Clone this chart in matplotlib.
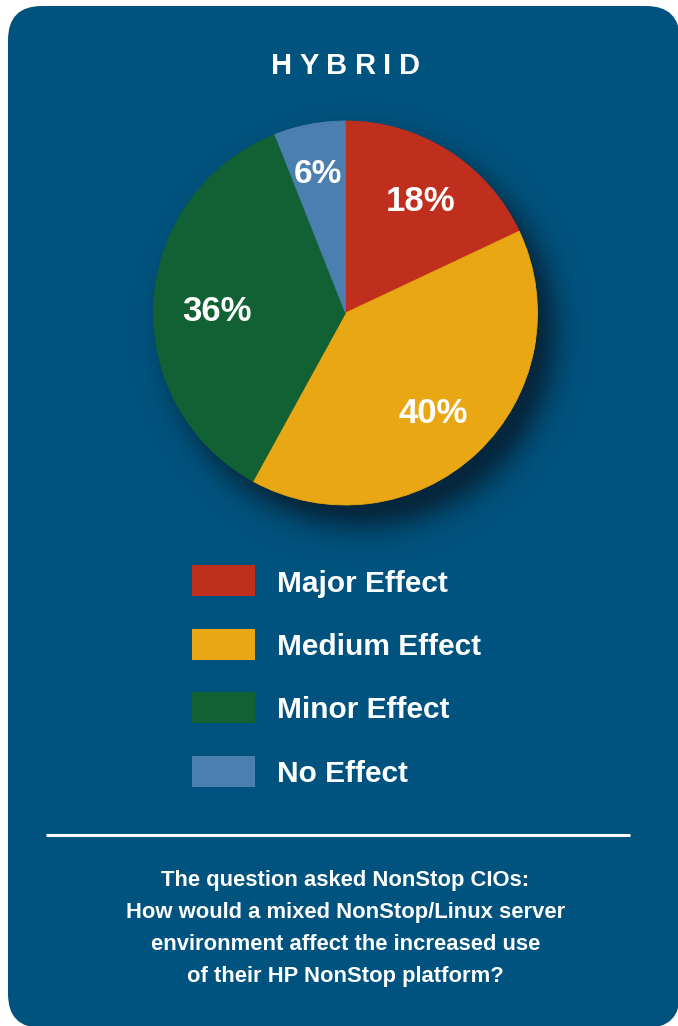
import numpy as np
import matplotlib
matplotlib.use("Agg")
import matplotlib.pyplot as plt
from matplotlib.patches import FancyBboxPatch, Rectangle

# ---- data ----
title = "HYBRID"
categories = ["Major Effect", "Medium Effect", "Minor Effect", "No Effect"]
values = [18, 40, 36, 6]
colors = ["#C02E1D", "#E8A713", "#116134", "#4A7FAF"]
question_lines = [
    "The question asked NonStop CIOs:",
    "How would a mixed NonStop/Linux server",
    "environment affect the increased use",
    "of their HP NonStop platform?",
]

plt.rcParams['font.family'] = ['Liberation Sans', 'DejaVu Sans']

W, H = 678, 1026
BG = "#00537E"
fig = plt.figure(figsize=(W / 100, H / 100), dpi=100)
fig.patch.set_facecolor('white')

bg = fig.add_axes([0, 0, 1, 1])
bg.set_xlim(0, W)
bg.set_ylim(H, 0)
bg.axis('off')

bg.add_patch(FancyBboxPatch((8, 6), 672, 1022,
                            boxstyle="round,pad=0,rounding_size=34",
                            facecolor=BG, edgecolor='none', zorder=0))

# pie geometry (pixels)
cx, cy, R = 345.5, 313.0, 192.0

# soft drop shadow behind the pie (offset to lower right)
x0, x1 = int(cx - R - 80), int(cx + R + 100)
y0, y1 = int(cy - R - 80), int(cy + R + 100)
xs = np.arange(x0, x1) + 0.5
ys = np.arange(y0, y1) + 0.5
XX, YY = np.meshgrid(xs, ys)
d = np.hypot(XX - (cx + 16), YY - (cy + 20))
edge = R - 20
a = np.where(d < edge, 1.0, np.exp(-((d - edge) / 27.0) ** 2))
img = np.zeros(d.shape + (4,))
img[..., 0] = 0.03
img[..., 1] = 0.12
img[..., 2] = 0.19
img[..., 3] = 0.85 * a
bg.imshow(img, extent=(x0, x1, y1, y0), origin='upper', zorder=1,
          interpolation='bilinear')
bg.set_xlim(0, W)
bg.set_ylim(H, 0)

# pie axes
pax = fig.add_axes([(cx - R) / W, 1 - (cy + R) / H, 2 * R / W, 2 * R / H])
pax.patch.set_alpha(0)
wedges, texts, autotexts = pax.pie(
    values, colors=colors, startangle=90, counterclock=False,
    autopct='%d%%', pctdistance=0.7, radius=1.0,
    wedgeprops=dict(linewidth=0.6, antialiased=True),
    textprops=dict(color='white', fontsize=25, fontweight='bold'))
for w, c in zip(wedges, colors):
    w.set_edgecolor(c)
pax.set_xlim(-1, 1)
pax.set_ylim(-1, 1)
pax.axis('off')

label_dist = [0.73, 0.67, 0.67, 0.77]
shift = -0.035
for w, t, dist in zip(wedges, autotexts, label_dist):
    ang = np.deg2rad((w.theta1 + w.theta2) / 2)
    t.set_position((dist * np.cos(ang), dist * np.sin(ang) + shift))
    t.set_ha('center')
    t.set_va('center')
autotexts[3].set_fontsize(24)

# title with letter spacing
renderer = fig.canvas.get_renderer()
tsize = 21
letters = []
for ch in title:
    t = bg.text(0, 73.5, ch, fontsize=tsize, fontweight='bold', color='white',
                ha='left', va='baseline')
    letters.append(t)
widths = [t.get_window_extent(renderer).width for t in letters]
target_width = 149
track = (target_width - sum(widths)) / (len(letters) - 1)
x = cx - target_width / 2
for t, wdt in zip(letters, widths):
    t.set_x(x)
    x += wdt + track

# legend
row_top = [565, 628.5, 692, 755.5]
for top, lab, col in zip(row_top, categories, colors):
    bg.add_patch(Rectangle((192, top), 63, 31, facecolor=col,
                           edgecolor='none', zorder=3))
    bg.text(277, top + 26.5, lab, fontsize=21.5, fontweight='bold',
            color='white', ha='left', va='baseline', zorder=3)

# separator
bg.plot([46, 630], [835, 835], color='white', lw=2.2,
        solid_capstyle='butt', zorder=3)

# question text
baselines = [886, 918, 950, 982]
for yb, line in zip(baselines, question_lines):
    bg.text(cx, yb, line, fontsize=15.8, fontweight='bold', color='white',
            ha='center', va='baseline', zorder=3)

fig.savefig("out.png", dpi=100, facecolor=fig.get_facecolor())
